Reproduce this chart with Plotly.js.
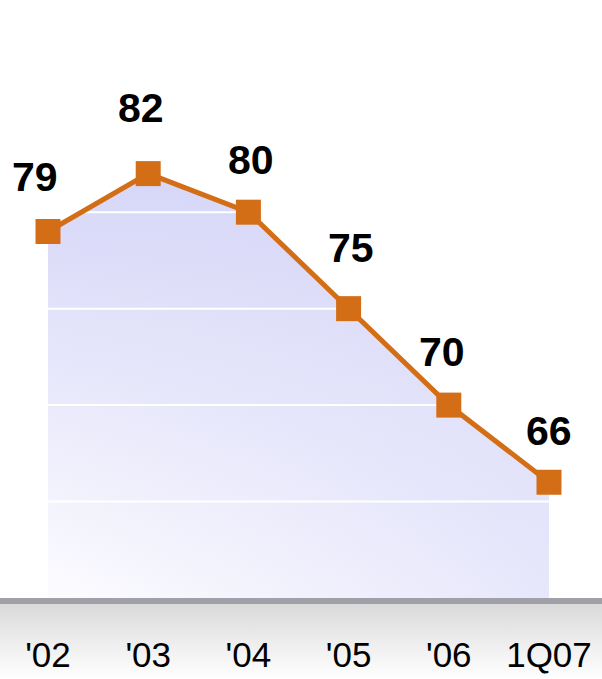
<!DOCTYPE html>
<html>
<head>
<meta charset="utf-8">
<script src="https://cdn.plot.ly/plotly-3.0.1.min.js"></script>
<style>
  html, body { margin: 0; padding: 0; background: #ffffff; }
  #chart {
    width: 602px; height: 679px;
    background: linear-gradient(to bottom, #ffffff 0px, #ffffff 603px, #d9d9d9 603px, #ececec 640px, #ffffff 679px);
  }
</style>
</head>
<body>
<div id="chart"></div>
<script>
// ---- data ----
const categories = ["'02", "'03", "'04", "'05", "'06", "1Q07"];
const values = [79, 82, 80, 75, 70, 66];
const gridValues = [65, 70, 75, 80];
// label offsets (px) relative to each point: [dx, dy up]
const labelDx = [-13, -7, 3, 2, -7, 0];
const labelDy = [54, 66, 52, 61, 53, 51];

const xIdx = categories.map((_, i) => i);
const orange = '#D46E16';

const traces = [];
// gradient area (vertical)
traces.push({
  x: xIdx, y: values, type: 'scatter', mode: 'none',
  fill: 'tozeroy',
  fillgradient: {type: 'vertical', start: 60, stop: 82,
    colorscale: [[0, '#fcfcff'], [1, '#d6d6f8']]},
  hoverinfo: 'skip', showlegend: false
});
// gradient area overlay (horizontal), giving a diagonal feel
traces.push({
  x: xIdx, y: values, type: 'scatter', mode: 'none',
  fill: 'tozeroy',
  fillgradient: {type: 'horizontal', start: 0, stop: 5,
    colorscale: [[0, 'rgba(214,214,248,0)'], [1, 'rgba(214,214,248,0.55)']]},
  hoverinfo: 'skip', showlegend: false
});
// white gridlines over the fill
const gx = [], gy = [];
gridValues.forEach(v => { gx.push(-0.5, 5.6, null); gy.push(v, v, null); });
traces.push({
  x: gx, y: gy, type: 'scatter', mode: 'lines',
  line: {color: '#ffffff', width: 2},
  hoverinfo: 'skip', showlegend: false
});
// main line with square markers
traces.push({
  x: xIdx, y: values, type: 'scatter', mode: 'lines+markers',
  line: {color: orange, width: 5},
  marker: {symbol: 'square', size: 25, color: orange},
  hoverinfo: 'skip', showlegend: false
});

const annotations = values.map((v, i) => ({
  x: i, y: v, xref: 'x', yref: 'y', text: String(v), showarrow: false,
  xshift: labelDx[i], yshift: labelDy[i],
  font: {family: 'Liberation Sans, Arial, sans-serif', size: 41, color: '#000000', weight: 'bold'},
  xanchor: 'center', yanchor: 'middle'
}));

const layout = {
  width: 602, height: 679,
  margin: {l: 0, r: 0, t: 0, b: 81, pad: 0},
  paper_bgcolor: 'rgba(0,0,0,0)',
  plot_bgcolor: 'rgba(0,0,0,0)',
  showlegend: false,
  xaxis: {
    range: [-0.479, 5.529], tickvals: xIdx, ticktext: categories,
    showgrid: false, zeroline: false,
    showline: true, linecolor: '#a0a0a8', linewidth: 6,
    ticks: 'outside', ticklen: 21, tickcolor: 'rgba(0,0,0,0)',
    tickfont: {family: 'Liberation Sans, Arial, sans-serif', size: 35, color: '#000000'},
    fixedrange: true
  },
  yaxis: {
    range: [60, 91], showgrid: false, zeroline: false, showline: false,
    showticklabels: false, ticks: '', fixedrange: true
  },
  annotations: annotations
};

Plotly.newPlot('chart', traces, layout, {displayModeBar: false, staticPlot: true});
</script>
</body>
</html>
